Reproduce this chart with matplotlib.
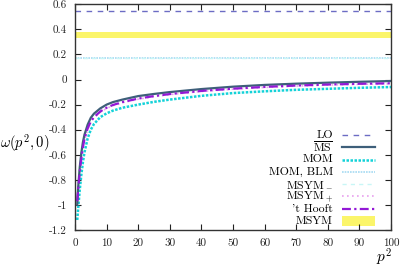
import matplotlib
matplotlib.use("Agg")
import matplotlib.pyplot as plt
from matplotlib.ticker import MultipleLocator, FuncFormatter
from matplotlib.patches import Rectangle

plt.rcParams['font.family'] = ['cmr10', 'DejaVu Serif']
plt.rcParams['mathtext.fontset'] = 'cm'
plt.rcParams['axes.unicode_minus'] = False
plt.rcParams['axes.formatter.use_mathtext'] = True

# data
p2 = [0.7, 1, 1.5, 2, 2.5, 3, 4, 5, 6, 8, 10, 12, 15, 20, 25, 30, 40, 50, 60, 70, 80, 90, 100]
ms_bar = [-1.0, -0.86, -0.70, -0.585, -0.50, -0.44, -0.36, -0.305, -0.272, -0.23, -0.20,
          -0.18, -0.16, -0.132, -0.115, -0.10, -0.076, -0.057, -0.043, -0.033, -0.025,
          -0.018, -0.012]
thooft = [-0.97, -0.88, -0.74, -0.63, -0.54, -0.475, -0.39, -0.335, -0.30, -0.255, -0.225,
          -0.203, -0.18, -0.152, -0.132, -0.116, -0.091, -0.073, -0.059, -0.048, -0.040,
          -0.034, -0.03]
msym_plus = [-0.98, -0.89, -0.75, -0.64, -0.55, -0.483, -0.397, -0.341, -0.306, -0.26,
             -0.23, -0.208, -0.185, -0.157, -0.137, -0.12, -0.095, -0.077, -0.063, -0.052,
             -0.044, -0.038, -0.034]
mom = [-1.12, -1.03, -0.88, -0.76, -0.66, -0.58, -0.47, -0.40, -0.355, -0.30, -0.27,
       -0.248, -0.225, -0.20, -0.178, -0.16, -0.13, -0.108, -0.094, -0.082, -0.074,
       -0.066, -0.06]
lo_value = 0.545
mom_blm_value = 0.173
msym_minus_value = 0.175
msym_band = (0.335, 0.38)
x_range = (0, 100)

labels = ["LO", r"$\overline{\rm MS}$", "MOM", "MOM, BLM", r"MSYM$_-$",
          r"MSYM$_+$", "'t Hooft", "MSYM"]

styles = [
    dict(color='#6c6cc4', ls=(0, (4, 4)), lw=1.0),
    dict(color='#3e5f7a', ls='-', lw=1.6),
    dict(color='#14d2d8', ls=(0, (1, 0.6)), lw=1.8),
    dict(color='#a6daf2', ls=(0, (1, 0.6)), lw=1.2),
    dict(color='#c8f6f6', ls=(0, (3, 3)), lw=1.0),
    dict(color='#e8a0ee', ls=(0, (1, 2)), lw=1.2),
    dict(color='#9318d6', ls=(0, (4, 1.5, 1, 1.5)), lw=1.6),
]
band_color = '#fbf56a'

fig = plt.figure(figsize=(4.0, 2.67), dpi=100)
ax = fig.add_axes([75/400, 1-230/267, 316/400, (230-4.3)/267])

ax.fill_between(x_range, [msym_band[0]]*2, [msym_band[1]]*2, color=band_color, lw=0)
ax.plot(x_range, [lo_value]*2, **styles[0])
ax.plot(x_range, [mom_blm_value]*2, **styles[3])
ax.plot(x_range, [msym_minus_value]*2, **styles[4])
ax.plot(p2, mom, **styles[2])
ax.plot(p2, msym_plus, **styles[5])
ax.plot(p2, ms_bar, **styles[1])
ax.plot(p2, thooft, **styles[6])

ax.set_xlim(0, 100)
ax.set_ylim(-1.2, 0.6)
ax.xaxis.set_major_locator(MultipleLocator(10))
ax.yaxis.set_major_locator(MultipleLocator(0.2))
ax.yaxis.set_major_formatter(FuncFormatter(lambda v, p: '%g' % round(v, 3)))
ax.xaxis.set_major_formatter(FuncFormatter(lambda v, p: '%g' % v))
ax.tick_params(direction='in', top=True, right=True, length=4, width=0.8,
               labelsize=8, colors='#222222', pad=6)
for s in ax.spines.values():
    s.set_linewidth(1.0)
    s.set_color('#333333')

fig.text(0.5/400, 1-143/267, r'$\omega(p^2,0)$', fontsize=10.5, ha='left', va='center')
fig.text(384/400, 1-257/267, r'$p^2$', fontsize=11, ha='center', va='center')

# legend (right-aligned text, sample on the right)
x_text, x1, x2 = 0.816, 0.845, 0.95
y0, dy = 0.421, 0.0545
for i, lab in enumerate(labels):
    y = y0 - i * dy
    ax.text(x_text, y, lab, transform=ax.transAxes, ha='right', va='center', fontsize=8.5)
    if i < 7:
        ax.plot([x1, x2], [y, y], transform=ax.transAxes, **styles[i])
    else:
        ax.add_patch(Rectangle((x1, y - 0.022), x2 - x1, 0.044, transform=ax.transAxes,
                               color=band_color, lw=0))

fig.savefig('out.png', dpi=100)
